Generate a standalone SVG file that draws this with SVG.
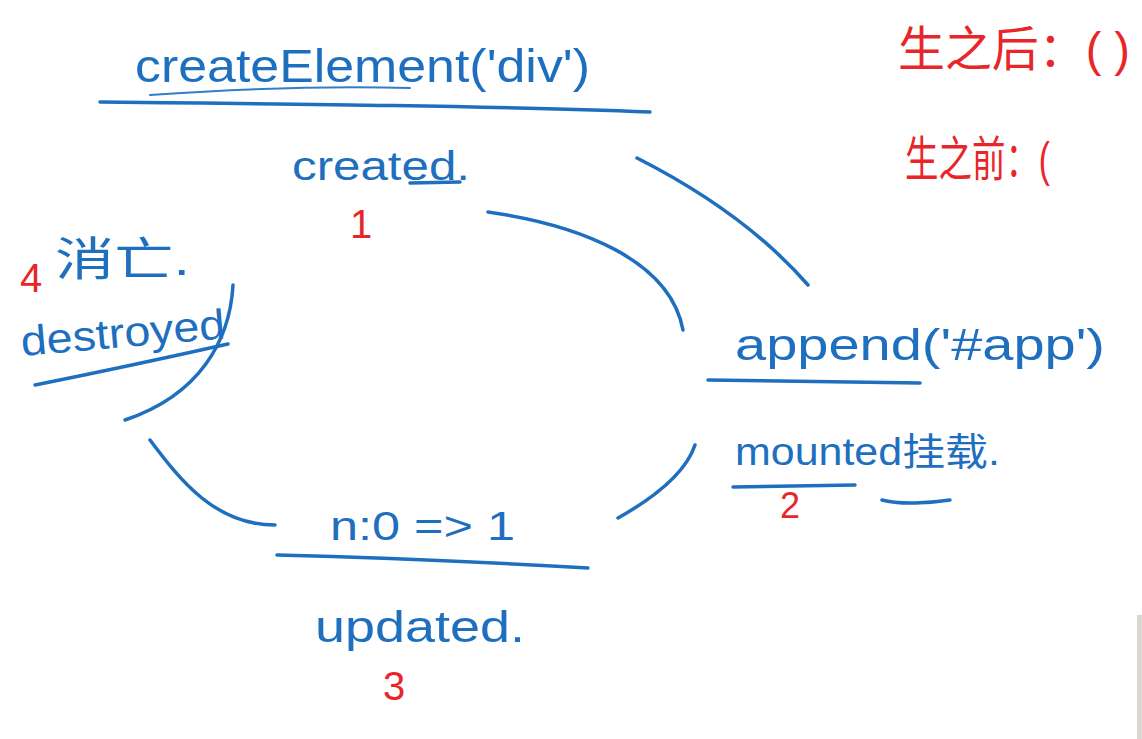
<svg xmlns="http://www.w3.org/2000/svg" width="1142" height="739" viewBox="0 0 1142 739">
<style>
.b{fill:#1f6fbf;font-family:"Liberation Sans","Noto Sans CJK SC",sans-serif}
.r{fill:#e8262a;font-family:"Liberation Sans","Noto Sans CJK SC",sans-serif}
.ln{fill:none;stroke:#1f6fbf;stroke-width:3.5;stroke-linecap:round}
.th{fill:none;stroke:#2f7fc8;stroke-width:2;stroke-linecap:round}
</style>
<rect width="1142" height="739" fill="#ffffff"/>
<g id="connectors">
<path class="ln" d="M637,158 C700,190 760,230 808,285"/>
<path class="ln" d="M488,212 C580,225 670,260 683,330"/>
<path class="ln" d="M695,445 C685,475 650,500 618,518"/>
<path class="ln" d="M150,440 C180,480 215,525 275,525"/>
<path class="ln" d="M233,285 C230,340 200,395 125,420"/>
</g>
<g id="create">
<text class="b" x="135" y="82" font-size="46" textLength="455" lengthAdjust="spacingAndGlyphs">createElement('div')</text>
<path class="th" d="M150,95 C250,88 340,86 410,88"/>
<path class="ln" d="M100,102 C300,104 500,106 650,112"/>
<text class="b" x="292" y="180" font-size="40" textLength="178" lengthAdjust="spacingAndGlyphs">created.</text>
<path class="ln" d="M410,183 L460,182"/>
<text class="r" x="350" y="238" font-size="40">1</text>
</g>
<g id="mount">
<text class="b" x="735" y="360" font-size="44" textLength="370" lengthAdjust="spacingAndGlyphs">append('#app')</text>
<path class="ln" d="M708,380 L920,383"/>
<text class="b" x="735" y="465" font-size="38" textLength="265" lengthAdjust="spacingAndGlyphs">mounted挂载.</text>
<path class="ln" d="M733,487 L855,485"/>
<path class="ln" d="M882,500 C900,505 930,503 950,500"/>
<text class="r" x="780" y="518" font-size="36">2</text>
</g>
<g id="update">
<text class="b" x="330" y="540" font-size="40" textLength="185" lengthAdjust="spacingAndGlyphs">n:0 =&gt; 1</text>
<path class="ln" d="M277,555 C400,558 500,563 588,568"/>
<text class="b" x="315" y="642" font-size="44" textLength="210" lengthAdjust="spacingAndGlyphs">updated.</text>
<text class="r" x="383" y="700" font-size="40">3</text>
</g>
<g id="destroy">
<text class="r" x="20" y="292" font-size="40">4</text>
<text class="b" x="55" y="275" font-size="46" textLength="135" lengthAdjust="spacingAndGlyphs">消亡.</text>
<text class="b" x="22" y="356" font-size="42" textLength="205" lengthAdjust="spacingAndGlyphs" transform="rotate(-5 22 356)">destroyed</text>
<path class="ln" d="M35,385 C100,372 170,357 228,344"/>
</g>
<g id="notes">
<text class="r" x="898" y="66" font-size="48" textLength="232" lengthAdjust="spacingAndGlyphs">生之后：( )</text>
<text class="r" x="905" y="176" font-size="48" textLength="145" lengthAdjust="spacingAndGlyphs">生之前：(</text>
</g>
<rect x="1137" y="615" width="5" height="124" fill="#d8d8d0"/>
</svg>
